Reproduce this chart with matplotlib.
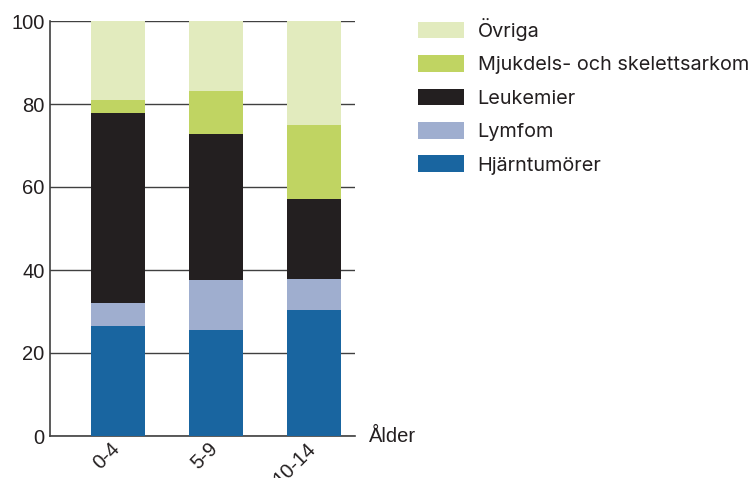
import matplotlib
matplotlib.use("Agg")
import matplotlib.pyplot as plt
import matplotlib.transforms as mtransforms
import numpy as np
from matplotlib.patches import Patch

categories = ["0-4", "5-9", "10-14"]
series_names = ["Hjärntumörer", "Lymfom", "Leukemier", "Mjukdels- och skelettsarkom", "Övriga"]
hjarn = [26.4, 25.5, 30.3]
lymfom = [5.6, 12.0, 7.5]
leukemier = [45.8, 35.2, 19.3]
mjukdels = [3.1, 10.5, 17.8]
ovriga = [19.1, 16.8, 25.1]
yticks = [0, 20, 40, 60, 80, 100]
colors = ["#1965a0", "#9faecf", "#231f20", "#c0d462", "#e2ebbe"]

data = [hjarn, lymfom, leukemier, mjukdels, ovriga]

fig = plt.figure(figsize=(7.51, 4.78), dpi=100)
ax = fig.add_axes([50/751, 42/478, 305/751, 415/478])

x = np.arange(len(categories))
bottom = np.zeros(len(categories))
for vals, col in zip(data, colors):
    ax.bar(x, vals, width=0.55, bottom=bottom, color=col, zorder=3)
    bottom += np.array(vals)

ax.set_ylim(0, 100)
ax.set_xlim(-0.69, 2.42)
ax.set_yticks(yticks)
ax.yaxis.grid(True, color="#404040", linewidth=1.0, zorder=0)
ax.set_axisbelow(True)
ax.tick_params(axis="both", length=0, labelsize=14.5, colors="#231f20")
ax.tick_params(axis="y", pad=4)
ax.tick_params(axis="x", pad=2)
ax.set_xticks(x)
ax.set_xticklabels(categories, rotation=45, ha="right", fontfamily="Liberation Sans")
offset = mtransforms.ScaledTranslation(6/100, 0, fig.dpi_scale_trans)
for lab in ax.get_xticklabels():
    lab.set_transform(lab.get_transform() + offset)
for lab in ax.get_yticklabels():
    lab.set_fontfamily("Liberation Sans")
for s in ["top", "right"]:
    ax.spines[s].set_visible(False)
for s in ["left", "bottom"]:
    ax.spines[s].set_color("#404040")
    ax.spines[s].set_linewidth(1.2)

ax.text(1.045, 0, "Ålder", transform=ax.transAxes, ha="left", va="center",
        fontsize=14.5, family="Liberation Sans", color="#231f20")

handles = [Patch(facecolor=c, edgecolor="none") for c in colors][::-1]
labels = series_names[::-1]
leg = fig.legend(handles, labels, loc="upper left", bbox_to_anchor=(414/751, 1 - 14/478),
                 frameon=False, prop={"family": "Inter", "size": 14.3},
                 handlelength=2.3, handleheight=0.9, labelspacing=0.72, handletextpad=0.7,
                 borderaxespad=0, borderpad=0.2)
for t in leg.get_texts():
    t.set_color("#231f20")

fig.savefig("out.png", dpi=100)
